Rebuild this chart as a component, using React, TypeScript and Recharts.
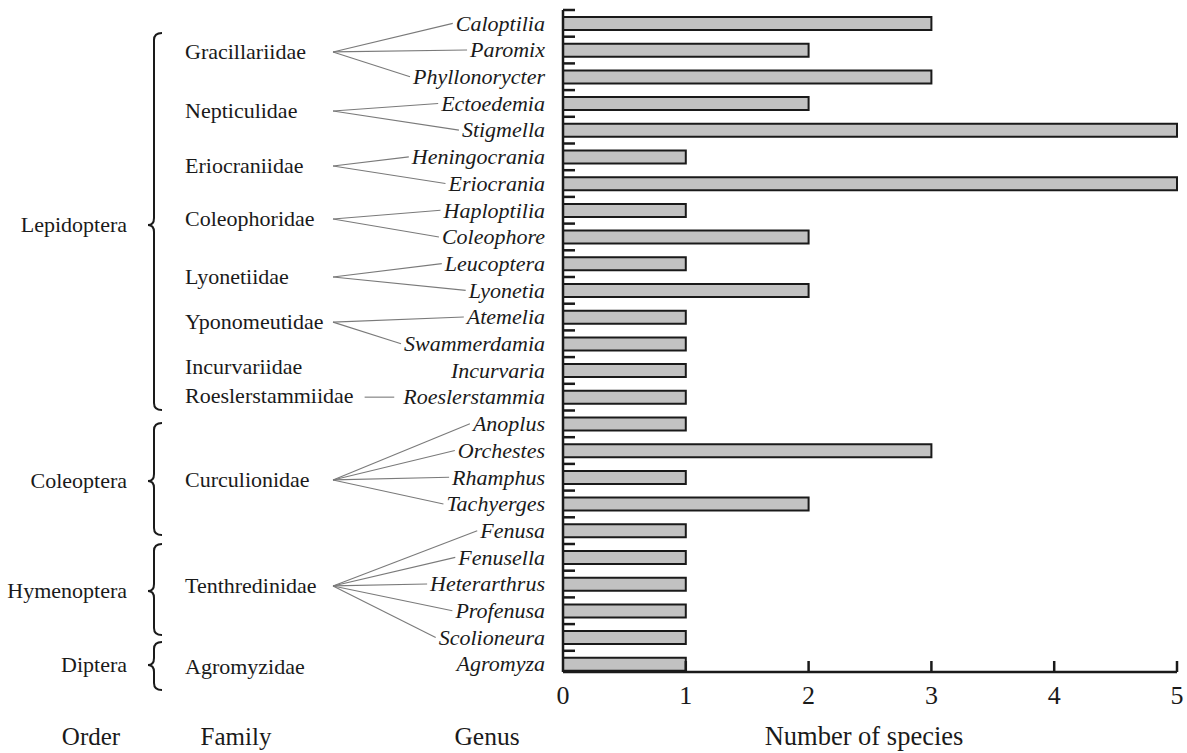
import React from "react";
import { BarChart, Bar, XAxis, YAxis } from "recharts";

// genera in the order they appear top to bottom
const genera = [
  "Caloptilia", "Paromix", "Phyllonorycter", "Ectoedemia", "Stigmella",
  "Heningocrania", "Eriocrania", "Haploptilia", "Coleophore", "Leucoptera",
  "Lyonetia", "Atemelia", "Swammerdamia", "Incurvaria", "Roeslerstammia",
  "Anoplus", "Orchestes", "Rhamphus", "Tachyerges", "Fenusa",
  "Fenusella", "Heterarthrus", "Profenusa", "Scolioneura", "Agromyza",
];
const speciesCounts = [3, 2, 3, 2, 5, 1, 5, 1, 2, 1, 2, 1, 1, 1, 1, 1, 3, 1, 2, 1, 1, 1, 1, 1, 1];
const genusFamily = [0, 0, 0, 1, 1, 2, 2, 3, 3, 4, 4, 5, 5, 6, 7, 8, 8, 8, 8, 9, 9, 9, 9, 9, 10];

const families = [
  "Gracillariidae", "Nepticulidae", "Eriocraniidae", "Coleophoridae", "Lyonetiidae",
  "Yponomeutidae", "Incurvariidae", "Roeslerstammiidae", "Curculionidae", "Tenthredinidae",
  "Agromyzidae",
];
// vertical position of each family label, in row units (0 = first genus row)
const familyRows = [1.07, 3.28, 5.34, 7.33, 9.5, 11.19, 12.87, 13.96, 17.1, 21.07, 24.11];
const familyLinks = ["fan", "fan", "fan", "fan", "fan", "fan", "none", "dash", "fan", "fan", "none"];

const orders = ["Lepidoptera", "Coleoptera", "Hymenoptera", "Diptera"];
const orderRows = [7.55, 17.14, 21.26, 24.03];
const orderSpanStart = [0.36, 14.97, 19.5, 23.17];
const orderSpanEnd = [14.48, 19.16, 22.91, 24.97];

const countTicks = [0, 1, 2, 3, 4, 5];

const data = genera.map((g, i) => ({ genus: g, count: speciesCounts[i] }));

const W = 1187;
const H = 753;
const TOP = 10;
const X_AXIS_H = 81;
const PAD_BOTTOM = -5.5; // last row runs slightly past the x axis, as in the original
const AXIS_X = 563;
const AXIS_Y = H - X_AXIS_H;
const BAND = (H - TOP - X_AXIS_H - PAD_BOTTOM) / genera.length;
const LABEL_RIGHT = 545;
const FAMILY_X = 185;
const ANCHOR_X = 333;
const INK = "#1a1a1a";
const SERIF = "'Liberation Serif', 'Times New Roman', serif";

const rowY = (r: number) => TOP + BAND * (r + 0.5);

let ctx: CanvasRenderingContext2D | null = null;
const textWidth = (s: string, font: string) => {
  if (!ctx) ctx = document.createElement("canvas").getContext("2d");
  if (!ctx) return s.length * 10;
  ctx.font = font;
  return ctx.measureText(s).width;
};

const GenusTick = ({ y, payload, index }: any) => {
  const name = payload.value as string;
  const fam = genusFamily[index];
  const link = familyLinks[fam];
  const start = LABEL_RIGHT - textWidth(name, `italic 22px ${SERIF}`);
  let connector = null;
  if (link === "fan") {
    connector = (
      <line x1={ANCHOR_X} y1={rowY(familyRows[fam])} x2={start - 3} y2={y} stroke="#7a7a7a" strokeWidth={1.1} />
    );
  } else if (link === "dash") {
    const famEnd = FAMILY_X + textWidth(families[fam], `22px ${SERIF}`);
    connector = <line x1={famEnd + 11} y1={y} x2={start - 9} y2={y} stroke="#7a7a7a" strokeWidth={1.1} />;
  }
  return (
    <g>
      <line x1={AXIS_X} x2={AXIS_X + 12} y1={y - BAND / 2} y2={y - BAND / 2} stroke={INK} strokeWidth={2.5} />
      {connector}
      <text x={LABEL_RIGHT} y={y} dy="0.33em" textAnchor="end" fontStyle="italic" fontSize={22} style={{ fontFamily: SERIF }} fill={INK}>
        {name}
      </text>
    </g>
  );
};

const CountTick = ({ x, payload }: any) => (
  <g>
    {payload.value > 0 && (
      <line x1={x} x2={x} y1={AXIS_Y} y2={AXIS_Y - 11} stroke={INK} strokeWidth={2.5} />
    )}
    <text x={x} y={695} dy="0.35em" textAnchor="middle" fontSize={26} style={{ fontFamily: SERIF }} fill={INK}>
      {payload.value}
    </text>
  </g>
);

const brace = (y0: number, y1: number, yc: number) => {
  const xr = 162, xv = 154, xc = 148, r = 7;
  return `M${xr},${y0} Q${xv},${y0} ${xv},${y0 + r} L${xv},${yc - r} Q${xv},${yc} ${xc},${yc} Q${xv},${yc} ${xv},${yc + r} L${xv},${y1 - r} Q${xv},${y1} ${xr},${y1}`;
};

export default function App() {
  return (
    <div style={{ position: "absolute", left: 0, top: 0, width: W, height: H, background: "#fff" }}>
      <BarChart
        width={W}
        height={H}
        data={data}
        layout="vertical"
        margin={{ top: TOP, right: 10, bottom: 0, left: 0 }}
      >
        <XAxis
          type="number"
          domain={[0, 5]}
          ticks={countTicks}
          height={X_AXIS_H}
          axisLine={{ stroke: INK, strokeWidth: 2.5 }}
          tickLine={false}
          tick={<CountTick />}
        />
        <YAxis
          type="category"
          dataKey="genus"
          width={AXIS_X}
          interval={0}
          padding={{ top: 0, bottom: PAD_BOTTOM }}
          axisLine={{ stroke: INK, strokeWidth: 2.5 }}
          tickLine={false}
          tick={<GenusTick />}
        />
        <Bar dataKey="count" fill="#c2c2c2" stroke={INK} strokeWidth={2} barSize={13} isAnimationActive={false} />
      </BarChart>
      <svg width={W} height={H} style={{ position: "absolute", left: 0, top: 0, pointerEvents: "none", fontFamily: SERIF }}>
        <g fill={INK} fontSize={22}>
          {orders.map((o, i) => (
            <g key={o}>
              <text x={127} y={rowY(orderRows[i])} dy="0.33em" textAnchor="end">{o}</text>
              <path
                d={brace(rowY(orderSpanStart[i]), rowY(orderSpanEnd[i]), rowY(orderRows[i]))}
                fill="none"
                stroke={INK}
                strokeWidth={2}
              />
            </g>
          ))}
          {families.map((f, i) => (
            <text key={f} x={FAMILY_X} y={rowY(familyRows[i])} dy="0.33em">{f}</text>
          ))}
        </g>
        <g fill={INK} textAnchor="middle">
          <text x={91} y={736} dy="0.35em" fontSize={25}>Order</text>
          <text x={236} y={736} dy="0.35em" fontSize={25}>Family</text>
          <text x={487} y={736} dy="0.35em" fontSize={25.5}>Genus</text>
          <text x={864} y={736} dy="0.35em" fontSize={26.5}>Number of species</text>
        </g>
      </svg>
    </div>
  );
}
